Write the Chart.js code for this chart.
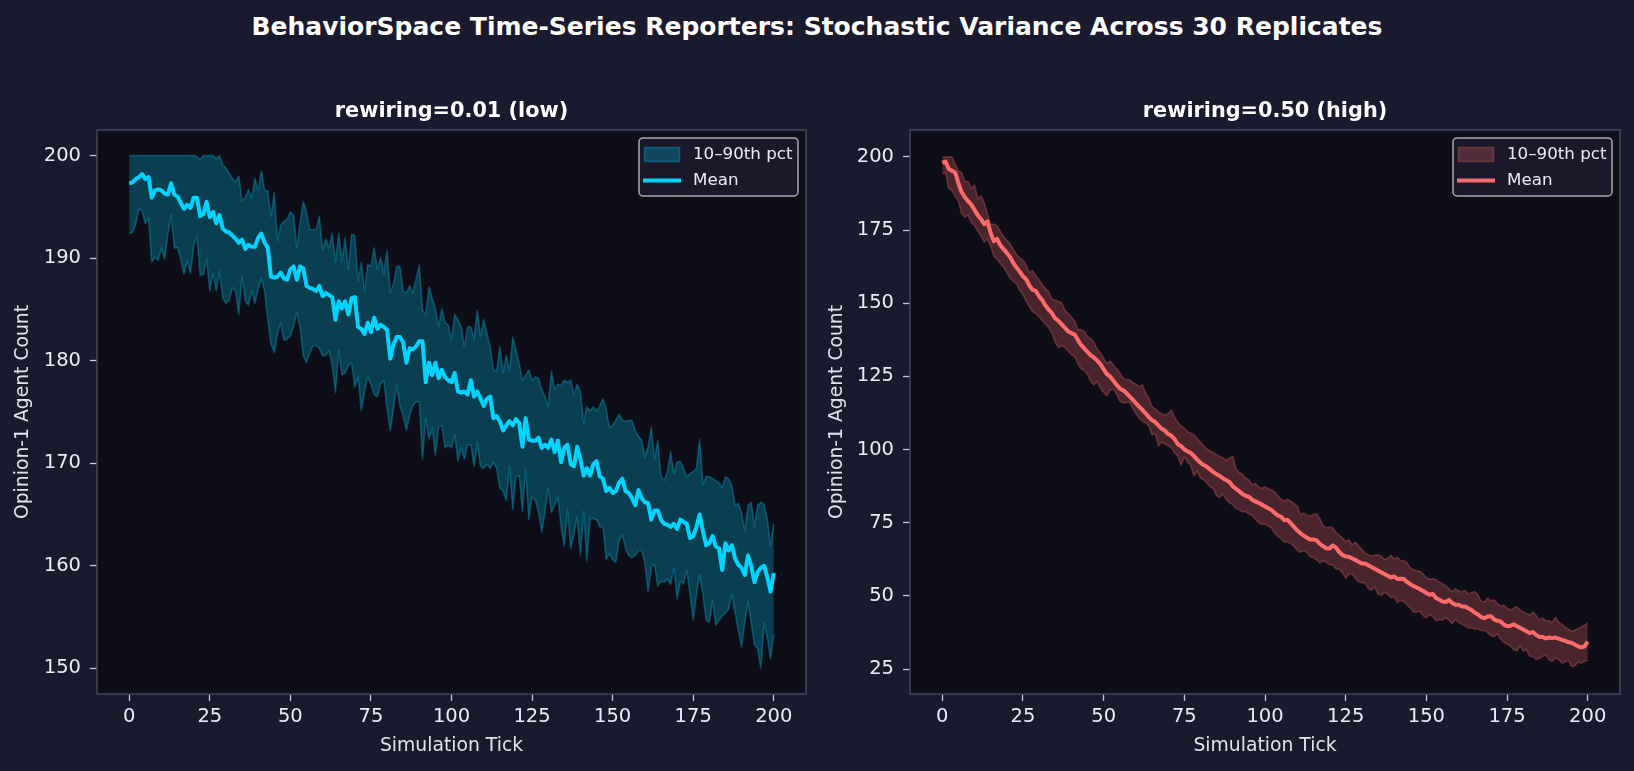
<!DOCTYPE html>
<html>
<head>
<meta charset="utf-8">
<title>BehaviorSpace Time-Series Reporters</title>
<script src="https://cdn.jsdelivr.net/npm/chart.js@4.4.1/dist/chart.umd.min.js"></script>
<style>
  html, body { margin: 0; padding: 0; }
  body {
    width: 1634px; height: 771px; overflow: hidden; position: relative;
    background: #1a1a2e; font-family: 'DejaVu Sans', sans-serif;
  }
  #suptitle {
    position: absolute; left: 0; top: 14px; width: 1634px;
    text-align: center; color: #ffffff; font-weight: bold;
    font-size: 25px; line-height: 25px;
  }
  canvas { position: absolute; top: 0; }
  #lowChart { left: 0; }
  #highChart { left: 817px; }
</style>
</head>
<body>
<div id="suptitle">BehaviorSpace Time-Series Reporters: Stochastic Variance Across 30 Replicates</div>
<canvas id="lowChart" width="817" height="771"></canvas>
<canvas id="highChart" width="817" height="771"></canvas>
<script>
// simulation ticks 0..200 (one reporter row per tick)
const TICKS = Array.from({ length: 201 }, (_, i) => i);

// rewiring = 0.01
const LOW_P10 = [
  192.4,192.5,193.3,194.8,194.6,193.4,193.9,189.6,190.1,189.8,
  191.0,189.9,192.4,194.2,191.0,191.0,189.9,188.4,189.8,188.5,
  191.2,192.2,188.3,188.4,189.9,186.8,188.5,186.8,188.7,186.1,
  185.6,185.9,187.1,186.8,184.5,188.2,185.8,185.4,186.8,185.6,
  187.0,188.0,186.8,184.0,181.6,180.8,182.6,183.7,182.0,182.1,
  182.4,183.3,184.7,183.3,180.5,179.8,180.7,181.4,181.5,181.2,
  180.5,180.5,181.0,179.5,176.9,181.0,178.6,178.8,179.5,179.8,
  177.4,178.4,175.1,177.0,178.4,177.7,176.7,176.5,177.7,178.1,
  175.3,173.2,175.3,177.6,175.6,174.6,173.2,174.6,175.6,176.0,
  176.0,170.4,174.4,172.3,173.5,170.8,173.5,173.7,171.5,171.8,
  171.5,172.8,170.2,171.5,170.4,171.8,171.8,169.7,172.0,169.7,
  169.5,169.9,169.5,170.1,169.5,167.6,167.3,166.4,169.7,165.5,
  168.7,168.8,165.3,169.4,164.5,166.7,166.4,165.2,163.3,165.2,
  167.6,165.2,165.9,166.7,163.8,161.9,165.5,161.7,163.1,164.8,
  161.0,165.3,160.5,164.6,164.6,164.5,163.8,163.8,160.6,161.2,
  160.6,160.3,162.4,163.1,161.7,161.0,160.8,161.0,161.5,161.5,
  160.3,157.5,159.9,160.1,158.0,158.5,158.4,158.7,158.2,159.8,
  156.8,158.5,158.2,159.6,157.2,154.7,157.2,159.1,157.2,154.7,
  154.5,156.6,154.2,154.7,155.1,155.4,155.8,157.2,155.4,153.7,
  152.1,154.4,156.5,154.4,152.3,151.9,150.0,154.4,153.0,150.9,
  153.3
];
const LOW_P90 = [
  200,200,200,200,200,200,200,200,200,200,
  200,200,200,200,200,200,200,200,200,200,
  200,199.9,199.6,200,200,200,200,199.7,200,199.1,
  198.8,198.3,197.8,197.4,198.0,195.6,195.9,196.7,195.9,197.8,
  196.6,198.5,196.6,196.6,194.1,196.4,191.7,193.2,193.6,193.8,
  194.5,194.2,191.0,193.4,195.5,194.5,192.8,192.8,192.8,194.1,
  190.8,191.9,191.0,192.4,189.6,192.4,189.6,192.0,188.9,192.3,
  192.2,187.8,189.6,186.8,189.4,189.2,191.0,188.9,190.1,188.5,
  190.8,186.6,187.5,189.2,189.2,186.8,186.6,187.3,186.6,188.0,
  189.3,184.9,184.5,187.2,186.1,185.1,183.3,185.1,183.7,183.5,
  182.0,184.5,184.0,183.3,181.4,183.3,183.3,182.1,184.9,182.4,
  184.0,182.6,181.4,179.1,179.0,181.4,178.8,180.5,179.0,182.3,
  181.0,179.8,178.1,178.6,179.1,178.1,178.4,178.3,177.2,176.5,
  175.5,179.0,177.2,177.7,177.6,178.1,177.9,178.1,176.7,177.7,
  177.0,173.9,175.5,175.1,175.5,175.1,175.6,176.3,175.3,173.5,
  173.7,174.2,174.8,174.2,174.1,174.2,174.2,173.2,172.6,172.3,
  170.6,171.6,173.5,170.4,172.2,168.7,168.3,169.2,171.1,169.0,
  170.1,170.2,169.5,168.7,169.0,169.2,169.5,172.3,167.9,168.7,
  168.7,168.5,168.3,168.1,167.6,168.7,168.5,167.8,165.9,166.1,
  165.2,163.4,165.9,166.2,163.8,165.9,166.2,166.0,164.5,162.0,
  164.1
];
const LOW_MEAN = [
  197.3,197.4,197.7,197.9,198.2,197.7,197.9,195.9,196.6,196.7,
  196.6,196.3,196.2,197.3,196.2,196.0,195.4,194.8,195.2,194.9,
  195.9,195.9,194.1,194.3,195.5,194.0,194.5,193.4,194.2,192.9,
  192.6,192.5,192.2,191.9,191.5,191.8,190.9,191.3,191.1,191.1,
  192.0,192.4,191.5,191.0,188.2,188.1,188.2,188.6,188.0,187.9,
  188.9,189.2,187.9,189.2,189.0,187.3,187.1,187.0,186.8,187.3,
  186.3,186.6,186.4,186.2,184.0,185.8,185.1,185.8,184.5,186.1,
  186.2,183.3,183.1,182.6,183.7,182.8,184.2,183.1,183.5,183.3,
  183.0,180.2,181.6,182.3,182.3,181.8,179.8,181.2,181.1,181.4,
  181.9,181.9,177.9,179.8,178.6,179.8,178.3,179.1,178.4,178.1,
  177.9,178.8,177.0,176.9,177.0,176.7,178.1,176.5,177.0,176.3,
  175.6,176.3,176.5,174.4,174.6,174.1,173.2,173.7,174.1,173.7,
  174.3,173.9,171.6,174.4,172.3,172.2,172.2,172.5,171.5,171.8,
  171.5,172.3,171.1,172.2,170.1,171.5,171.8,169.9,169.7,171.6,
  170.4,168.8,169.5,168.8,169.9,170.2,168.7,168.5,167.3,167.6,
  167.1,167.3,168.1,168.5,167.3,167.1,166.6,165.9,167.4,166.6,
  166.2,166.1,164.5,165.4,165.4,164.5,164.1,164.0,163.8,164.1,
  163.6,164.5,164.3,164.1,162.7,162.9,163.8,165.0,163.4,162.0,
  162.2,162.9,161.9,161.7,159.6,162.2,161.5,162.0,160.7,160.1,
  159.8,159.1,161.0,160.0,158.4,159.4,159.8,160.0,158.9,157.5,
  159.3
];

// rewiring = 0.50
const HIGH_P10 = [
  194.1,194.7,189.2,188.6,186.5,184.9,180.6,179.4,180.1,177.6,
  176.5,174.6,173.0,170.9,172.0,169.5,166.0,165.0,163.6,162.4,
  160.5,158.6,157.5,156.6,154.4,153.0,150.6,148.9,147.1,146.5,
  145.3,144.0,142.8,141.6,139.8,136.7,134.9,135.5,134.9,133.7,
  132.4,131.8,129.4,127.6,127.0,125.7,123.3,122.1,123.3,120.9,
  119.6,118.4,120.4,120.6,119.0,116.6,116.0,116.0,116.2,114.1,
  112.3,110.7,109.8,109.1,108.0,105.0,105.5,101.3,102.5,101.9,
  101.3,100.7,98.9,97.7,94.6,97.7,95.8,94.6,91.0,92.8,
  90.3,89.7,88.5,87.3,86.7,84.2,83.6,84.9,83.0,81.8,
  81.2,80.0,79.4,78.7,78.7,78.1,77.5,76.3,75.1,74.5,
  74.5,73.9,73.3,71.4,70.2,69.6,68.4,68.4,67.8,67.0,
  65.6,64.9,65.4,64.8,63.4,63.1,62.3,61.3,62.0,61.5,
  60.7,60.6,59.2,59.1,58.0,56.0,57.4,57.4,56.0,54.9,
  54.4,54.4,52.5,52.0,53.0,50.7,50.2,51.2,50.7,49.3,
  49.8,47.7,48.5,48.1,46.9,46.0,44.5,44.5,44.8,43.2,
  42.5,43.6,43.0,41.5,41.8,41.8,42.5,41.8,40.5,42.0,
  40.9,40.3,39.7,39.1,39.1,38.7,38.9,38.1,38.3,37.4,
  36.5,36.1,37.1,35.2,34.1,33.6,32.9,31.8,31.2,33.0,
  31.2,31.7,29.4,29.3,28.2,28.7,29.3,29.8,28.2,27.6,
  28.8,28.3,27.0,27.4,28.0,25.9,26.2,27.3,27.1,27.7,
  28.0
];
const HIGH_P90 = [
  200.0,200.0,200.0,200.0,197.5,195.3,194.7,191.6,191.6,189.2,
  190.4,185.5,186.8,184.3,180.5,177.0,177.0,176.4,174.6,172.7,
  171.5,170.3,168.5,166.6,165.4,164.8,163.0,160.5,161.1,159.3,
  158.1,156.2,155.0,153.8,151.4,151.0,150.7,150.1,147.7,146.5,
  145.3,144.0,141.0,141.0,140.4,138.6,137.9,136.7,134.3,133.1,
  131.2,129.4,130.3,129.0,127.5,126.3,124.5,123.9,123.9,122.9,
  122.3,121.5,122.1,119.4,117.6,114.7,113.9,112.9,112.3,111.7,
  112.3,113.5,111.1,109.3,108.0,107.4,106.2,105.6,105.0,103.8,
  102.5,101.3,100.1,99.5,98.9,98.3,97.7,97.1,96.4,97.1,
  97.7,93.4,92.2,91.6,90.3,89.7,87.9,88.5,87.3,86.7,
  87.3,86.7,86.1,85.5,84.2,83.0,82.4,83.0,82.4,81.5,
  80.6,77.8,78.3,77.6,77.3,77.8,78.1,76.4,74.0,73.3,
  73.5,73.3,71.7,70.7,69.8,68.6,69.2,67.4,68.4,67.1,
  65.9,64.7,64.1,63.6,64.0,64.1,63.6,62.5,62.8,63.9,
  62.6,63.2,62.0,62.1,61.4,59.6,58.9,58.6,58.4,57.5,
  56.3,55.7,55.9,55.5,54.8,54.2,53.5,52.5,51.4,52.4,
  51.8,51.3,51.9,50.7,51.2,51.5,50.3,48.2,47.9,49.3,
  48.4,48.6,47.4,46.5,46.9,45.8,45.2,45.8,46.4,45.2,
  44.6,44.0,43.4,44.5,43.4,41.8,42.5,41.5,41.5,40.9,
  42.7,41.0,40.3,39.3,38.7,37.9,38.3,38.9,39.4,40.0,
  40.8
];
const HIGH_MEAN = [
  198.0,198.4,195.9,195.3,194.7,191.0,188.0,186.2,184.9,183.7,
  181.9,180.1,178.8,177.0,178.0,174.0,171.2,172.0,169.8,168.5,
  167.2,165.8,163.8,162.2,160.8,159.2,158.2,156.0,154.6,154.2,
  152.4,151.0,149.2,147.8,146.6,144.8,144.0,142.8,141.6,140.4,
  139.8,139.3,137.5,135.8,134.6,133.4,132.2,131.4,130.4,129.2,
  127.5,125.8,125.0,123.6,122.1,120.9,120.3,119.4,118.2,117.1,
  115.9,114.7,113.6,112.4,111.1,110.0,109.4,108.2,107.1,106.5,
  105.3,104.7,103.6,101.8,101.2,100.1,99.4,98.8,97.8,96.6,
  95.5,94.7,94.1,93.2,92.3,91.6,91.0,90.1,89.5,88.9,
  87.5,86.6,85.8,84.8,84.2,83.9,82.9,82.3,81.8,81.2,
  80.6,80.0,79.4,78.3,77.5,77.0,75.9,76.0,74.8,73.6,
  72.4,71.4,70.6,69.9,69.3,69.3,69.0,67.8,67.0,66.3,
  66.2,67.3,66.5,65.0,64.0,63.5,63.4,62.8,62.3,61.7,
  61.1,61.1,60.5,59.9,59.3,58.7,58.1,57.5,56.9,56.3,
  56.7,55.8,55.9,55.8,54.8,54.0,53.4,52.9,52.3,51.7,
  51.0,50.4,50.7,49.3,48.7,48.1,47.9,48.6,47.6,47.0,
  47.0,46.4,46.4,45.8,45.2,44.3,43.6,42.8,42.4,43.0,
  43.1,42.0,41.5,41.3,40.2,39.7,39.7,40.3,39.7,39.1,
  38.5,37.9,37.3,37.7,36.7,36.0,36.0,35.5,35.8,35.6,
  35.8,35.4,35.0,34.7,34.2,34.0,33.4,32.8,32.4,32.8,
  34.4
];

const PANEL_TITLES = ['rewiring=0.01 (low)', 'rewiring=0.50 (high)'];
const LEGEND_LABELS = ['10\u201390th pct', 'Mean'];
const X_TITLE = 'Simulation Tick';
const Y_TITLE = 'Opinion-1 Agent Count';

// colores
const AXES_BG = '#0e0e18';
const SPINE = '#44445e';
const TICK_TEXT = '#ececf4';
const LABEL_TEXT = '#e2e2ea';
const TICK_MARK = '#c8c8d0';
const LEGEND_BG = '#19192b';
const LEGEND_EDGE = '#a8a8b0';

Chart.defaults.font.family = "'DejaVu Sans', sans-serif";

// fondo del area, marco y leyenda
const panelDecor = {
  id: 'panelDecor',
  beforeDraw(chart) {
    const { ctx, chartArea: a } = chart;
    ctx.save();
    ctx.fillStyle = AXES_BG;
    ctx.fillRect(a.left, a.top, a.right - a.left, a.bottom - a.top);
    ctx.restore();
  },
  afterDraw(chart, args, o) {
    const { ctx, chartArea: a } = chart;
    ctx.save();
    ctx.lineWidth = 1.5;
    ctx.strokeStyle = SPINE;
    ctx.strokeRect(a.left, a.top, a.right - a.left, a.bottom - a.top);

    const w = 159, h = 58, r = 4;
    const bx = a.right - 8 - w, by = a.top + 8;
    ctx.beginPath();
    ctx.moveTo(bx + r, by);
    ctx.lineTo(bx + w - r, by);
    ctx.arcTo(bx + w, by, bx + w, by + r, r);
    ctx.lineTo(bx + w, by + h - r);
    ctx.arcTo(bx + w, by + h, bx + w - r, by + h, r);
    ctx.lineTo(bx + r, by + h);
    ctx.arcTo(bx, by + h, bx, by + h - r, r);
    ctx.lineTo(bx, by + r);
    ctx.arcTo(bx, by, bx + r, by, r);
    ctx.closePath();
    ctx.fillStyle = LEGEND_BG;
    ctx.fill();
    ctx.strokeStyle = LEGEND_EDGE;
    ctx.lineWidth = 1.5;
    ctx.stroke();

    ctx.fillStyle = o.band;
    ctx.fillRect(bx + 5.5, by + 9.5, 35, 14);
    ctx.strokeStyle = o.edge;
    ctx.lineWidth = 1.6;
    ctx.strokeRect(bx + 5.5, by + 9.5, 35, 14);

    ctx.strokeStyle = o.line;
    ctx.lineWidth = 4;
    ctx.beginPath();
    ctx.moveTo(bx + 4, by + 42.5);
    ctx.lineTo(bx + 42, by + 42.5);
    ctx.stroke();

    ctx.fillStyle = TICK_TEXT;
    ctx.font = "16.7px 'DejaVu Sans'";
    ctx.textAlign = 'left';
    ctx.textBaseline = 'middle';
    ctx.fillText(LEGEND_LABELS[0], bx + 54, by + 16.5);
    ctx.fillText(LEGEND_LABELS[1], bx + 54, by + 42.5);
    ctx.restore();
  }
};

function makePanel(canvasId, p) {
  return new Chart(document.getElementById(canvasId), {
    type: 'line',
    data: {
      labels: TICKS,
      datasets: [
        { label: 'p10', data: p.p10, borderColor: p.edge, borderWidth: 1.6,
          backgroundColor: p.band, pointRadius: 0, fill: false },
        { label: 'p90', data: p.p90, borderColor: p.edge, borderWidth: 1.6,
          backgroundColor: p.band, pointRadius: 0, fill: '-1' },
        { label: LEGEND_LABELS[1], data: p.mean, borderColor: p.line, borderWidth: 4,
          pointRadius: 0, fill: false }
      ]
    },
    options: {
      responsive: false,
      animation: false,
      devicePixelRatio: 1,
      events: [],
      layout: { padding: { left: 0, top: 0, right: p.padRight, bottom: 0 } },
      elements: { line: { tension: 0, borderJoinStyle: 'round' } },
      plugins: {
        legend: { display: false },
        tooltip: { enabled: false },
        title: {
          display: true,
          text: p.title,
          fullSize: false,
          color: '#ffffff',
          font: { size: 20.8, weight: 'bold' },
          padding: { top: 99.5, bottom: 5.5 }
        },
        panelDecor: { band: p.band, edge: p.edge, line: p.line }
      },
      scales: {
        x: {
          type: 'linear',
          min: -10,
          max: 210,
          afterFit: (s) => { s.height = 77; },
          border: { display: false },
          grid: { display: true, drawOnChartArea: false, drawTicks: true,
                  tickLength: 7, tickColor: TICK_MARK, tickWidth: 1.3 },
          ticks: { stepSize: 25, includeBounds: false, color: TICK_TEXT,
                   font: { size: 19.5 }, padding: 4, maxRotation: 0 },
          title: { display: true, text: X_TITLE, color: LABEL_TEXT,
                   font: { size: 18.75 }, padding: { top: 0, bottom: 14 } }
        },
        y: {
          type: 'linear',
          min: p.yMin,
          max: p.yMax,
          afterFit: (s) => { s.width = p.yWidth; },
          border: { display: false },
          grid: { display: true, drawOnChartArea: false, drawTicks: true,
                  tickLength: 7, tickColor: TICK_MARK, tickWidth: 1.3 },
          ticks: { stepSize: p.yStep, includeBounds: false, color: TICK_TEXT,
                   font: { size: 19.5 }, padding: 9 },
          title: { display: true, text: Y_TITLE, color: LABEL_TEXT,
                   font: { size: 18.75 }, padding: { top: p.yTitlePad, bottom: 0 } }
        }
      }
    },
    plugins: [panelDecor]
  });
}

makePanel('lowChart', {
  title: PANEL_TITLES[0],
  p10: LOW_P10, p90: LOW_P90, mean: LOW_MEAN,
  line: '#00d4ff', band: 'rgba(0, 212, 255, 0.25)', edge: 'rgba(0, 212, 255, 0.28)',
  yMin: 147.5, yMax: 202.5, yStep: 10,
  yWidth: 97, yTitlePad: 11.75, padRight: 11
});

makePanel('highChart', {
  title: PANEL_TITLES[1],
  p10: HIGH_P10, p90: HIGH_P90, mean: HIGH_MEAN,
  line: '#ff6b6b', band: 'rgba(255, 107, 107, 0.25)', edge: 'rgba(255, 107, 107, 0.28)',
  yMin: 16.5, yMax: 209.2, yStep: 25,
  yWidth: 93, yTitlePad: 8.75, padRight: 14
});
</script>
</body>
</html>
